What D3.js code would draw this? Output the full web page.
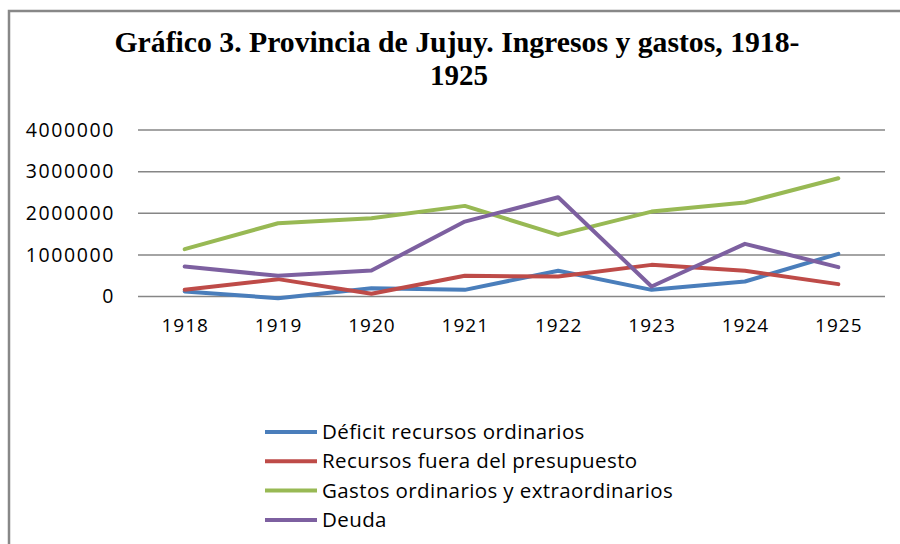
<!DOCTYPE html>
<html><head><meta charset="utf-8">
<script src="https://cdn.jsdelivr.net/npm/d3@7"></script>
<style>body{margin:0;background:#fff}svg{display:block}</style>
</head><body>
<script>
const years = ["1918","1919","1920","1921","1922","1923","1924","1925"];
const deficit = [120000,-40000,200000,160000,617000,160000,360000,1025000];
const recursos = [160000,417000,65000,497000,480000,760000,617000,297000];
const gastos = [1137000,1760000,1880000,2177000,1480000,2040000,2257000,2840000];
const deuda = [720000,497000,625000,1800000,2385000,240000,1265000,705000];
const seriesNames = ["Déficit recursos ordinarios","Recursos fuera del presupuesto","Gastos ordinarios y extraordinarios","Deuda"];
const seriesColors = ["#4a7ebb","#be4b48","#98b954","#7d60a0"];
const yTicks = [0,1000000,2000000,3000000,4000000];
const titleLines = ["Gráfico 3. Provincia de Jujuy. Ingresos y gastos, 1918-","1925"];

const W=900,H=544;
const svg=d3.select("body").append("svg").attr("width",W).attr("height",H);
svg.append("rect").attr("x",9).attr("y",11).attr("width",W).attr("height",H).attr("fill","#fff").attr("stroke","#888").attr("stroke-width",2.5);

const x=d3.scalePoint().domain(years).range([138,885]).padding(0.5);
const y=d3.scaleLinear().domain([0,4000000]).range([296.5,130]);

// gridlines
svg.append("g").selectAll("line").data(yTicks).join("line")
 .attr("x1",138).attr("x2",885).attr("y1",d=>y(d)).attr("y2",d=>y(d))
 .attr("stroke","#868686").attr("stroke-width",1.5);

// y axis labels
const yAxis=d3.axisLeft(y).tickValues(yTicks).tickFormat(d=>String(d)).tickSize(0).tickPadding(23);
const gy=svg.append("g").attr("transform","translate(138,0)").call(yAxis);
gy.select(".domain").remove();
gy.selectAll("text").attr("font-family","'Open Sans'").attr("font-size",19.5).attr("fill","#000").attr("letter-spacing","1.6px");

// x axis labels
const xAxis=d3.axisBottom(x).tickSize(0).tickPadding(22);
const gx=svg.append("g").attr("transform","translate(0,296.5)").call(xAxis);
gx.select(".domain").remove();
gx.selectAll("text").attr("font-family","'Open Sans'").attr("font-size",19).attr("fill","#000").attr("letter-spacing","1px");

const allSeries=[deficit,recursos,gastos,deuda];
const line=d3.line().x((d,i)=>x(years[i])).y(d=>y(d));
svg.append("g").selectAll("path").data(allSeries).join("path")
 .attr("d",line).attr("fill","none").attr("stroke",(d,i)=>seriesColors[i])
 .attr("stroke-width",4).attr("stroke-linejoin","round").attr("stroke-linecap","round");

// title
const titleLens=[685,58];
svg.append("g").selectAll("text").data(titleLines).join("text")
 .attr("x",(d,i)=>i===0?457:459).attr("y",(d,i)=>52+i*33).attr("text-anchor","middle")
 .attr("font-family","'Liberation Serif'").attr("font-weight","bold").attr("font-size",30)
 .attr("fill","#000").attr("textLength",(d,i)=>titleLens[i]).attr("lengthAdjust","spacingAndGlyphs")
 .text(d=>d);

// legend
const lg=svg.append("g").selectAll("g").data(seriesNames).join("g")
 .attr("transform",(d,i)=>`translate(265,${432+i*29.3})`);
lg.append("line").attr("x1",0).attr("x2",52).attr("y1",0).attr("y2",0)
 .attr("stroke",(d,i)=>seriesColors[i]).attr("stroke-width",4);
lg.append("text").attr("x",57).attr("y",7).attr("font-family","'Open Sans'").attr("font-size",20.5)
 .attr("letter-spacing","0.4px").attr("fill","#000").text(d=>d);
</script>
</body></html>
